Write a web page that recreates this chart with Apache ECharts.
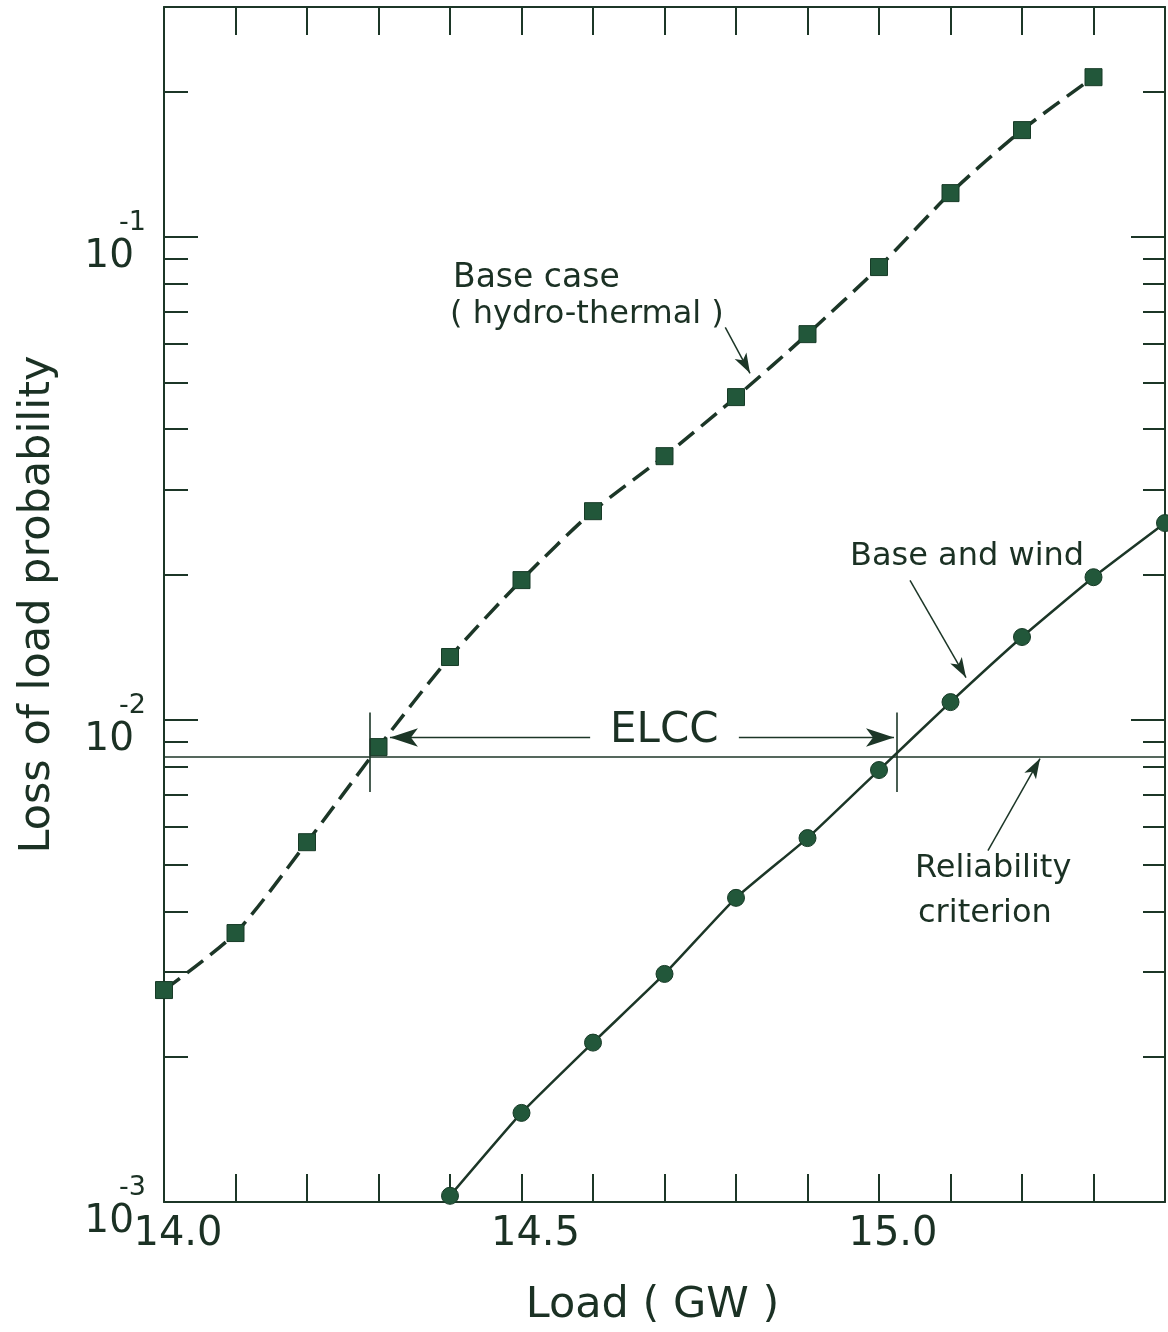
<!DOCTYPE html>
<html>
<head>
<meta charset="utf-8">
<script src="https://cdn.jsdelivr.net/npm/echarts@6/dist/echarts.min.js"></script>
<style>
html,body{margin:0;padding:0;background:#ffffff;}
#chart{width:1168px;height:1332px;}
</style>
</head>
<body>
<div id="chart"></div>
<script>
// ---------------- data ----------------
const baseLoads = [14.0, 14.1, 14.2, 14.3, 14.4, 14.5, 14.6, 14.7, 14.8, 14.9, 15.0, 15.1, 15.2, 15.3];
const baseCaseLOLP = [0.00275, 0.00361, 0.00557, 0.00877, 0.01348, 0.01946, 0.02704, 0.03516, 0.04661, 0.06295, 0.0867, 0.1234, 0.1667, 0.2146];
const windLoads = [14.4, 14.5, 14.6, 14.7, 14.8, 14.9, 15.0, 15.1, 15.2, 15.3, 15.4];
const baseWindLOLP = [0.00103, 0.00153, 0.00214, 0.00297, 0.00427, 0.00568, 0.00786, 0.01087, 0.01483, 0.01973, 0.02555];
const reliabilityCriterion = 0.00836;
const elccLoads = [14.288, 15.025];
const elccBarRange = [0.00708, 0.01034];
const elccArrowLevel = 0.00918;
const elccArrowLeft = [14.596, 14.316];
const elccArrowRight = [14.804, 15.021];
const baseCaseArrow = [[14.785, 0.0650], [14.8196, 0.0522]];
const baseWindArrow = [[15.0434, 0.01943], [15.1217, 0.01222]];
const reliabilityArrow = [[15.1524, 0.005348], [15.2252, 0.0083]];
const xTickLabels = [14.0, 14.5, 15.0];
const yDecadeTicks = [0.001, 0.01, 0.1];
const yMinorTicks = [0.002, 0.003, 0.004, 0.005, 0.006, 0.007, 0.008, 0.009,
                     0.02, 0.03, 0.04, 0.05, 0.06, 0.07, 0.08, 0.09, 0.2, 0.3];

// ---------------- style ----------------
const FONT = 'DejaVu Sans';
const INK = '#1b3124';
const LINE = '#1c3627';
const MARK = '#22573a';

const chart = echarts.init(document.getElementById('chart'), null, {renderer: 'canvas'});

function xAxisCommon(pos) {
  return {
    type: 'value', position: pos, min: 14.0, max: 15.4, interval: 0.1,
    axisLine: {show: true, lineStyle: {color: LINE, width: 2}},
    axisTick: {show: true, inside: true, length: 28, lineStyle: {color: LINE, width: 2}},
    splitLine: {show: false}
  };
}
function yAxisCommon(pos, ticks, len, showLine) {
  return {
    type: 'log', logBase: 10, position: pos, min: 0.001, max: 0.3,
    axisLine: {show: showLine, lineStyle: {color: LINE, width: 2}},
    axisTick: {show: true, inside: true, length: len, customValues: ticks, lineStyle: {color: LINE, width: 2}},
    splitLine: {show: false},
    minorTick: {show: false}
  };
}

const xBottom = Object.assign(xAxisCommon('bottom'), {
  name: 'Load ( GW )', nameLocation: 'middle', nameGap: 82,
  nameTextStyle: {fontFamily: FONT, fontSize: 43, color: INK, padding: [0, 24, 0, 0]},
  axisLabel: {show: true, customValues: xTickLabels, margin: 13, fontFamily: FONT, fontSize: 40, color: INK,
    padding: [0, 0, 0, 28], formatter: v => v.toFixed(1)}
});
const xTop = Object.assign(xAxisCommon('top'), {axisLabel: {show: false}});

const yMain = Object.assign(yAxisCommon('left', yDecadeTicks, 34, true), {
  name: 'Loss of load probability', nameLocation: 'middle', nameGap: 105, nameRotate: 90,
  nameTextStyle: {fontFamily: FONT, fontSize: 43, color: INK},
  axisLabel: {show: true, customValues: yDecadeTicks, margin: 30, fontFamily: FONT, fontSize: 39, color: INK,
    verticalAlign: 'top', lineHeight: 40, formatter: () => '10'}
});
const yMinorLeft = Object.assign(yAxisCommon('left', yMinorTicks, 24, false), {
  axisLabel: {show: true, customValues: yDecadeTicks, margin: 18, fontFamily: FONT, fontSize: 27, color: INK,
    verticalAlign: 'bottom', lineHeight: 28, formatter: v => String(Math.round(Math.log10(v)))}
});
const yRight = Object.assign(yAxisCommon('right', yDecadeTicks, 34, true), {axisLabel: {show: false}});
const yMinorRight = Object.assign(yAxisCommon('right', yMinorTicks, 22, false), {axisLabel: {show: false}});

function arrowItem(from, to, size, width) {
  return [
    {coord: from, symbol: 'none', lineStyle: {color: LINE, width: width, type: 'solid'}},
    {coord: to, symbol: 'arrow', symbolSize: size}
  ];
}
function plainItem(from, to, width) {
  return [
    {coord: from, symbol: 'none', lineStyle: {color: LINE, width: width, type: 'solid'}},
    {coord: to, symbol: 'none'}
  ];
}

const option = {
  animation: false,
  backgroundColor: '#ffffff',
  grid: {left: 164, right: 3, top: 7, bottom: 130, containLabel: false},
  xAxis: [xBottom, xTop],
  yAxis: [yMain, yMinorLeft, yRight, yMinorRight],
  series: [
    {
      name: 'Base case (hydro-thermal)', type: 'line', xAxisIndex: 0, yAxisIndex: 0,
      data: baseLoads.map((x, i) => [x, baseCaseLOLP[i]]),
      smooth: 0.25, clip: false,
      symbol: 'rect', symbolSize: 17,
      lineStyle: {color: LINE, width: 3.5, type: [20, 9]},
      itemStyle: {color: MARK, borderColor: '#173b27', borderWidth: 1},
      z: 3
    },
    {
      name: 'Base and wind', type: 'line', xAxisIndex: 0, yAxisIndex: 0,
      data: windLoads.map((x, i) => [x, baseWindLOLP[i]]),
      smooth: 0.15, clip: false,
      symbol: 'circle', symbolSize: 17,
      lineStyle: {color: LINE, width: 2.5, type: 'solid'},
      itemStyle: {color: MARK, borderColor: '#173b27', borderWidth: 1},
      z: 3,
      markLine: {
        silent: true, animation: false,
        label: {show: false},
        symbol: ['none', 'none'],
        data: [
          [{yAxis: reliabilityCriterion, x: 164, symbol: 'none', lineStyle: {color: LINE, width: 1.6, type: 'solid'}},
           {yAxis: reliabilityCriterion, x: 1165, symbol: 'none'}],
          plainItem([elccLoads[0], elccBarRange[0]], [elccLoads[0], elccBarRange[1]], 1.6),
          plainItem([elccLoads[1], elccBarRange[0]], [elccLoads[1], elccBarRange[1]], 1.6),
          arrowItem([elccArrowLeft[0], elccArrowLevel], [elccArrowLeft[1], elccArrowLevel], [14, 28], 1.4),
          arrowItem([elccArrowRight[0], elccArrowLevel], [elccArrowRight[1], elccArrowLevel], [14, 28], 1.4),
          arrowItem(baseCaseArrow[0], baseCaseArrow[1], [10, 20], 1.5),
          arrowItem(baseWindArrow[0], baseWindArrow[1], [10, 20], 1.5),
          arrowItem(reliabilityArrow[0], reliabilityArrow[1], [10, 20], 1.5)
        ]
      }
    }
  ],
  graphic: [
    {type: 'text', left: 453, top: 262, style: {text: 'Base case', fontFamily: FONT, fontSize: 33, fill: INK}},
    {type: 'text', left: 450, top: 299, style: {text: '( hydro-thermal )', fontFamily: FONT, fontSize: 32, fill: INK}},
    {type: 'text', left: 850, top: 541, style: {text: 'Base and wind', fontFamily: FONT, fontSize: 32, fill: INK}},
    {type: 'text', left: 915, top: 853, style: {text: 'Reliability', fontFamily: FONT, fontSize: 32, fill: INK}},
    {type: 'text', left: 918, top: 898, style: {text: 'criterion', fontFamily: FONT, fontSize: 32, fill: INK}},
    {type: 'text', left: 610, top: 710, style: {text: 'ELCC', fontFamily: FONT, fontSize: 42, fill: INK}}
  ]
};
chart.setOption(option);
</script>
</body>
</html>
